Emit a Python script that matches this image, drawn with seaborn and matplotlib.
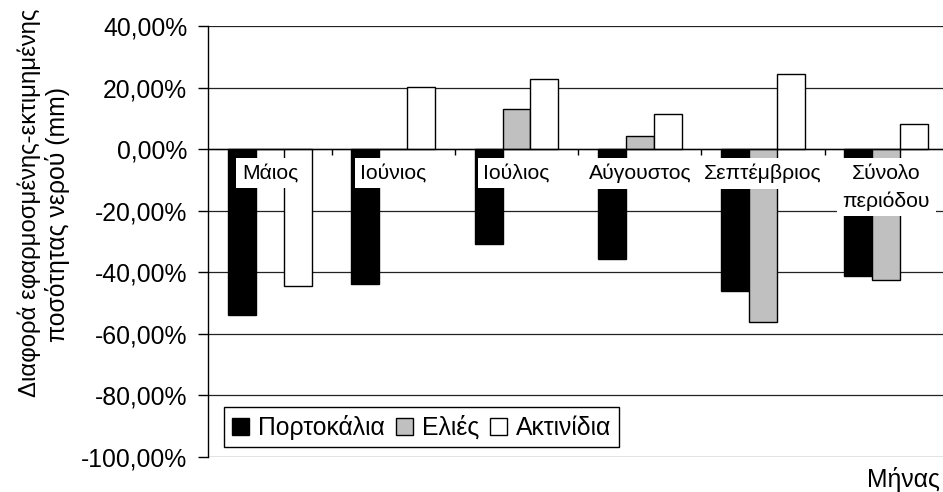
import numpy as np
import pandas as pd
import matplotlib
matplotlib.use("Agg")
import matplotlib.pyplot as plt
import seaborn as sns
from matplotlib.ticker import FixedLocator, FuncFormatter

# --- data -------------------------------------------------------------
months = ["Μάιος", "Ιούνιος", "Ιούλιος", "Αύγουστος", "Σεπτέμβριος", "Σύνολο\nπεριόδου"]
crops = ["Πορτοκάλια", "Ελιές", "Ακτινίδια"]
oranges = [-54.1, -43.9, -30.8, -35.8, -46.0, -41.2]
olives = [0.0, 0.0, 13.0, 4.2, -56.3, -42.7]
kiwis = [-44.6, 20.1, 22.7, 11.4, 24.4, 8.3]
y_ticks = [-100, -80, -60, -40, -20, 0, 20, 40]
colors = ["#000000", "#c0c0c0", "#ffffff"]

ylabel_line1 = "Διαφορά εφαρμοσμένης-εκτιμημένης"
ylabel_line2 = "ποσότητας νερού (mm)"
xlabel_text = "Μήνας"

rows = []
for crop, vals in zip(crops, [oranges, olives, kiwis]):
    for m, v in zip(months, vals):
        rows.append({"month": m, "crop": crop, "value": v})
df = pd.DataFrame(rows)

# --- style ------------------------------------------------------------
sns.set_theme(style="white")
plt.rcParams["font.family"] = ["Liberation Sans", "DejaVu Sans"]
plt.rcParams["text.color"] = "black"
FS = 17.8

W, H = 943, 492
fig = plt.figure(figsize=(W / 100, H / 100), dpi=100)
ax_left, ax_right = 208.3, 948.0
ax_top, ax_bottom = 26.0, 456.7
ax = fig.add_axes([ax_left / W, 1 - ax_bottom / H,
                   (ax_right - ax_left) / W, (ax_bottom - ax_top) / H])

sns.barplot(data=df, x="month", y="value", hue="crop",
            order=months, hue_order=crops,
            palette=dict(zip(crops, colors)), saturation=1,
            edgecolor="black", linewidth=1.0, width=0.68,
            errorbar=None, ax=ax)

ax.set_xlim(-0.5, len(months) - 0.5)
ax.set_ylim(y_ticks[0], y_ticks[-1])

# y axis: percentage ticks with comma decimals, grid behind the bars
ax.yaxis.set_major_locator(FixedLocator(y_ticks))
ax.yaxis.set_major_formatter(
    FuncFormatter(lambda v, p: f"{v:.2f}%".replace(".", ",")))
ax.tick_params(axis="y", which="major", direction="out", length=7.2,
               width=1, color="black", pad=8, labelsize=FS, labelcolor="black",
               left=True)
ax.yaxis.grid(True, color="#222222", linewidth=0.9)
ax.xaxis.grid(False)
ax.yaxis.set_zorder(0.5)

# x axis sits on the zero line; category labels boxed in white above bars
ax.spines["bottom"].set_position(("data", 0))
ax.spines["bottom"].set_color("black")
ax.spines["bottom"].set_linewidth(1.0)
ax.spines["left"].set_color("black")
ax.spines["left"].set_linewidth(1.0)
ax.spines["top"].set_visible(False)
ax.spines["right"].set_visible(False)

ax.set_xticks(range(len(months)))
ax.set_xticklabels(months, fontsize=15.2, color="black",
                   linespacing=1.55)
ax.set_xticks(np.arange(0.5, len(months) - 0.5, 1.0), minor=True)
ax.tick_params(axis="x", which="major", length=0, pad=10.5, bottom=True)
ax.tick_params(axis="x", which="minor", direction="out", length=4.5,
               width=1, color="black", bottom=True)
for lab in ax.get_xticklabels():
    lab.set_bbox(dict(facecolor="white", edgecolor="none", pad=4.0))
ax.xaxis.set_zorder(3)

ax.set_xlabel("")
ax.set_ylabel("")

# legend in the lower-left corner
handles, labels = ax.get_legend_handles_labels()
leg = ax.legend(handles, labels, loc="lower left",
                bbox_to_anchor=(16 / (ax_right - ax_left), 9.4 / (ax_bottom - ax_top)),
                borderaxespad=0, ncol=3, fontsize=FS, frameon=True,
                fancybox=False, framealpha=1, edgecolor="black",
                handlelength=0.7, handleheight=0.7, handletextpad=0.35,
                columnspacing=0.45, borderpad=0.3)
leg.get_frame().set_linewidth(1.0)

# axis titles: the long first line fills the full height on the left
fig.text(29 / W, 1 - 397 / H, ylabel_line1, rotation=90, ha="center",
         va="bottom", fontsize=17.2)
fig.text(57 / W, 1 - 214 / H, ylabel_line2, rotation=90, ha="center",
         va="center", fontsize=FS)
fig.text(940 / W, 1 - 486.5 / H, xlabel_text, ha="right", va="baseline",
         fontsize=FS)

fig.savefig("out.png", dpi=100)
